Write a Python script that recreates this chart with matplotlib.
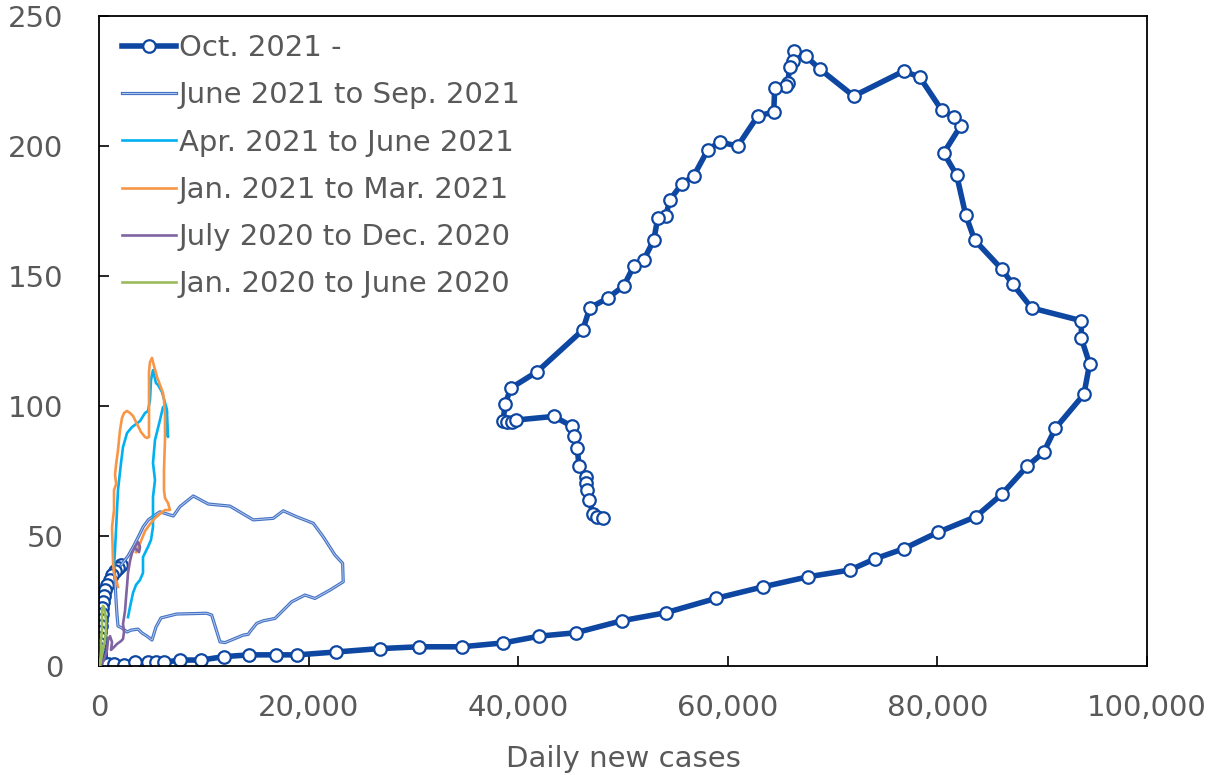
import matplotlib
matplotlib.use("Agg")
import matplotlib.pyplot as plt
import matplotlib.patheffects as pe
from matplotlib.ticker import FuncFormatter

plt.rcParams["font.family"] = ["DejaVu Sans"]

# Daily new cases (x) vs. daily deaths (y), one trajectory per period
oct21_cases = [2060, 1780, 1490, 1200, 1010, 730, 530, 440, 340, 250, 200, 150, 110, 90, 70,
               60, 60, 70, 80, 90, 100, 110, 120, 140, 170, 210, 280, 400, 600, 850,
               1355, 2309, 3435, 4628, 5439, 6126, 7653, 9733, 11851, 14304, 16823, 18903,
               22577, 26737, 30525, 34581, 38569, 42004, 45477, 49848, 54065, 58836, 63388,
               67615, 71622, 74075, 76775, 80019, 83645, 86126, 88578, 90134, 91250, 93980,
               94523, 93731, 93731, 88988, 87175, 86126, 83549, 82690, 81831, 80591, 82213,
               81545, 80400, 78300, 76773, 72002, 68758, 67422, 66277, 66181, 65895, 65704,
               65513, 64464, 64368, 62841, 60933, 59215, 58070, 56734, 55589, 54444, 54062,
               53299, 52917, 51963, 51008, 50054, 48527, 46809, 46141, 41784, 39275, 38731,
               38540, 38864, 39370, 39752, 43378, 45067, 45306, 45602, 45793, 46404, 46404,
               46556, 46747, 47129, 47511, 48083]
oct21_deaths = [38.8, 37.7, 36.5, 35.0, 33.1, 31.2, 29.2, 26.9, 24.6, 22.3, 20.0, 17.7, 15.4,
                13.1, 10.8, 8.5, 6.5, 5.0, 4.0, 3.0, 2.5, 2.0, 1.6, 1.3, 1.0, 0.8, 0.7, 0.6,
                0.6, 0.7,
                0.8, 0.5, 1.4, 1.4, 1.4, 1.4, 2.3, 2.3, 3.6, 4.3, 4.3, 4.3, 5.4, 6.7, 7.4,
                7.4, 8.9, 11.5, 12.8, 17.4, 20.5, 26.0, 30.5, 34.3, 36.9, 41.3, 45.1, 51.4,
                57.4, 66.0, 76.9, 82.2, 91.4, 104.5, 116.2, 126.0, 132.8, 137.7, 146.9, 152.7,
                163.8, 173.5, 188.8, 197.3, 207.7, 211.2, 213.8, 226.5, 228.8, 219.2, 229.6,
                234.6, 236.5, 232.7, 230.4, 224.2, 223.1, 222.3, 213.1, 211.5, 200.0, 201.5,
                198.5, 188.5, 185.4, 179.2, 173.1, 172.3, 163.8, 156.2, 153.8, 146.2, 141.5,
                137.7, 129.2, 113.2, 106.9, 100.8, 94.4, 94.0, 94.0, 94.6, 96.0, 92.3, 88.3,
                83.7, 76.9, 72.8, 70.3, 67.7, 63.8, 58.3, 57.4, 56.8]

jun21_cases = [1393, 1489, 1584, 1679, 1775, 2157, 2634, 3015, 3683, 4065, 4542, 5019, 5400,
               5878, 7376, 10239, 10716, 11508, 11985, 13731, 14208, 14370, 15010, 15640,
               16756, 18350, 19619, 20573, 22004, 23273, 23216, 22481, 21365, 20411, 18827,
               17548, 16594, 14685, 12462, 10391, 8960, 7691, 7052, 5782, 5305, 4666, 4189,
               3712, 3235, 2729, 2061]
jun21_deaths = [38.1, 33.1, 25.4, 19.6, 15.4, 14.6, 13.1, 13.8, 14.2, 12.7, 11.5, 10.0, 15.0,
                18.5, 20.0, 20.3, 19.6, 9.3, 9.0, 11.9, 12.2, 13.2, 16.4, 17.4, 18.3, 24.7,
                27.3, 26.0, 29.2, 32.4, 39.5, 42.7, 49.7, 54.9, 57.4, 59.7, 56.8, 56.2, 61.5,
                62.3, 65.4, 61.3, 57.7, 59.3, 58.1, 56.2, 53.6, 49.7, 45.9, 42.3, 38.8]

apr21_cases = [2729, 2920, 3206, 3492, 3874, 4160, 4160, 4637, 4924, 5114, 5114, 5114, 5305,
               5114, 5305, 5782, 6069, 6451, 6546, 6355, 6451, 5973, 5591, 5400, 5114, 4924,
               4828, 4637, 4351, 3874, 3111, 2634, 2252, 2061, 1775, 1584, 1489, 1393]
apr21_deaths = [18.8, 22.7, 28.1, 31.2, 33.1, 35.8, 41.9, 45.8, 48.5, 53.5, 60.0, 65.0, 71.5,
                78.1, 86.9, 94.6, 99.6, 97.7, 88.1, 92.7, 98.5, 105.4, 108.1, 108.8, 113.8,
                110.0, 102.3, 98.1, 97.3, 94.2, 91.9, 89.6, 84.2, 78.1, 67.7, 52.3, 44.6, 38.1]

jan21_cases = [3492, 3779, 4351, 4828, 5305, 5782, 6259, 6736, 6546, 6259, 6164, 6164, 6259,
               6259, 6164, 6069, 5782, 5496, 5210, 5019, 4828, 4733, 4733, 4733, 4542, 4351,
               3970, 3588, 3206, 2920, 2634, 2347, 2157, 1966, 1775, 1584, 1489, 1600, 1393,
               1393, 1250, 1202, 1250, 1298, 1393, 1679, 1775]
jan21_deaths = [43.8, 46.2, 51.9, 54.6, 56.9, 58.5, 60.0, 60.0, 62.7, 64.6, 67.7, 75.4, 86.9,
                96.2, 102.3, 105.0, 108.1, 111.2, 115.4, 118.5, 116.9, 113.1, 102.3, 88.1,
                87.7, 88.1, 90.0, 93.1, 96.2, 97.3, 98.1, 97.3, 95.4, 90.8, 83.1, 77.3, 73.5,
                70.0, 67.7, 60.0, 55.0, 53.1, 47.3, 39.6, 35.8, 31.9, 30.4]

jul20_cases = [153, 439, 725, 821, 1011, 1202, 1107, 1298, 1679, 2061, 2252, 2347, 2252,
               2443, 2538, 2634, 2729, 2920, 3111, 3397, 3683, 3874, 3779, 3492]
jul20_deaths = [0.4, 2.3, 6.2, 10.0, 11.5, 9.2, 6.2, 6.9, 8.5, 9.6, 10.4, 13.1, 16.2, 21.2,
                26.2, 30.8, 35.8, 40.4, 43.5, 45.8, 47.7, 45.8, 43.8, 45.0]

jan20_cases = [10, 57, 153, 344, 534, 630, 630, 534, 439, 344, 248, 248, 248, 153, 153, 105, 57]
jan20_deaths = [0.0, 0.8, 2.3, 6.2, 10.0, 13.8, 17.7, 20.8, 22.7, 23.1, 21.5, 17.7, 13.8,
                10.0, 6.2, 3.1, 1.2]

x_ticks = [0, 20000, 40000, 60000, 80000, 100000]
y_ticks = [0, 50, 100, 150, 200, 250]
x_label = "Daily new cases"

fig = plt.figure(figsize=(12.08, 7.75), dpi=100)
ax = fig.add_axes([0.0823, 0.1406, 0.8672, 0.8388])

ax.plot(oct21_cases, oct21_deaths, color="#0E47A1", lw=4.0, marker="o", ms=9,
        mfc="white", mec="#0E47A1", mew=1.6, label="Oct. 2021 -", zorder=2)
ax.plot(jun21_cases, jun21_deaths, color="#B4C8EC", lw=0.7, label="June 2021 to Sep. 2021",
        zorder=3, path_effects=[pe.Stroke(linewidth=2.3, foreground="#4472C4"), pe.Normal()])
ax.plot(apr21_cases, apr21_deaths, color="#00B0F0", lw=1.9, label="Apr. 2021 to June 2021",
        zorder=3)
ax.plot(jan21_cases, jan21_deaths, color="#F79646", lw=1.9, label="Jan. 2021 to Mar. 2021",
        zorder=3)
ax.plot(jul20_cases, jul20_deaths, color="#8064A2", lw=1.9, label="July 2020 to Dec. 2020",
        zorder=3)
ax.plot(jan20_cases, jan20_deaths, color="#9BBB59", lw=1.9, label="Jan. 2020 to June 2020",
        zorder=3)

ax.set_xlim(x_ticks[0], x_ticks[-1])
ax.set_ylim(y_ticks[0], y_ticks[-1])
ax.set_xticks(x_ticks)
ax.set_yticks(y_ticks)
ax.xaxis.set_major_formatter(FuncFormatter(lambda v, p: f"{int(v):,}"))

label_color = "#595959"
ax.tick_params(axis="both", direction="in", length=7, width=1.2, labelsize=21,
               labelcolor=label_color, top=False, right=False)
ax.tick_params(axis="x", pad=20)
ax.tick_params(axis="y", pad=26)
for s in ax.spines.values():
    s.set_linewidth(1.3)
    s.set_color("black")

ax.set_xlabel(x_label, fontsize=21, color=label_color, labelpad=17)

leg = ax.legend(loc="upper left", bbox_to_anchor=(0.0216, 0.972), frameon=False,
                fontsize=21, handlelength=1.85, handletextpad=0.1, labelspacing=0.66,
                borderpad=0, borderaxespad=0, numpoints=1)
for t in leg.get_texts():
    t.set_color(label_color)

fig.savefig("out.png", dpi=100)
